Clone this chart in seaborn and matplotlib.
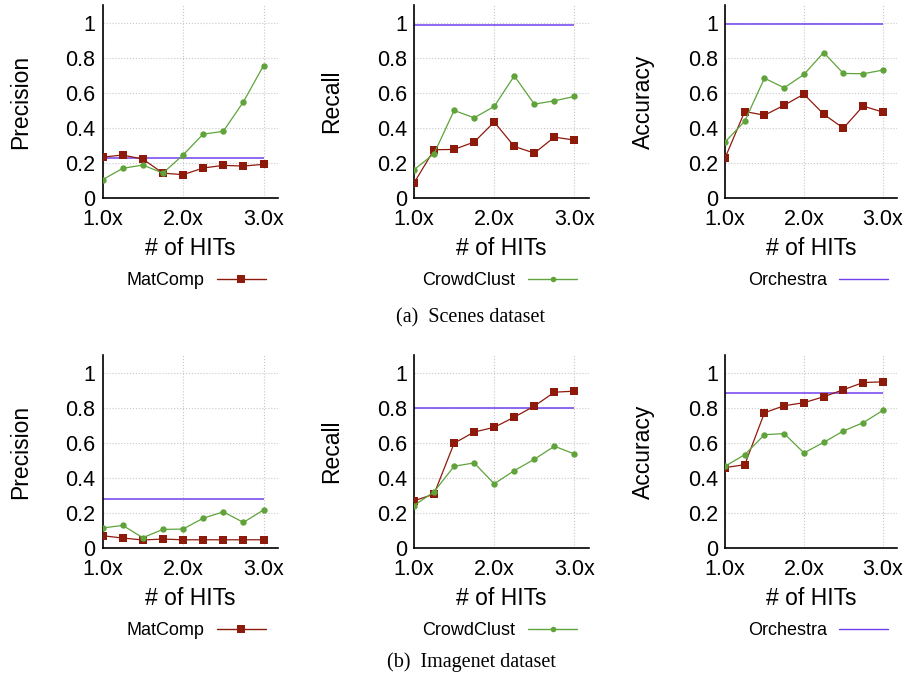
import numpy as np
import pandas as pd
import seaborn as sns
import matplotlib.pyplot as plt
from matplotlib.lines import Line2D

hits = [1.0, 1.25, 1.5, 1.75, 2.0, 2.25, 2.5, 2.75, 3.0]
methods = ['MatComp', 'CrowdClust', 'Orchestra']
metrics = ['Precision', 'Recall', 'Accuracy']

# (a) Scenes dataset
scenes_matcomp = {
    'Precision': [0.233, 0.245, 0.222, 0.142, 0.133, 0.171, 0.186, 0.182, 0.192],
    'Recall': [0.085, 0.275, 0.277, 0.319, 0.433, 0.294, 0.256, 0.347, 0.330],
    'Accuracy': [0.228, 0.493, 0.472, 0.529, 0.592, 0.478, 0.398, 0.524, 0.490],
}
scenes_crowdclust = {
    'Precision': [0.104, 0.169, 0.188, 0.142, 0.245, 0.364, 0.380, 0.548, 0.755],
    'Recall': [0.161, 0.252, 0.499, 0.457, 0.522, 0.696, 0.535, 0.554, 0.579],
    'Accuracy': [0.319, 0.438, 0.683, 0.628, 0.704, 0.829, 0.710, 0.708, 0.729],
}
scenes_orchestra = {'Precision': 0.230, 'Recall': 0.987, 'Accuracy': 0.992}

# (b) Imagenet dataset
imagenet_matcomp = {
    'Precision': [0.070, 0.057, 0.046, 0.051, 0.047, 0.047, 0.047, 0.047, 0.047],
    'Recall': [0.269, 0.307, 0.597, 0.661, 0.688, 0.746, 0.809, 0.888, 0.894],
    'Accuracy': [0.458, 0.475, 0.771, 0.811, 0.828, 0.862, 0.902, 0.943, 0.947],
}
imagenet_crowdclust = {
    'Precision': [0.114, 0.129, 0.059, 0.106, 0.108, 0.170, 0.206, 0.146, 0.217],
    'Recall': [0.242, 0.320, 0.466, 0.485, 0.366, 0.441, 0.506, 0.580, 0.536],
    'Accuracy': [0.466, 0.532, 0.646, 0.652, 0.542, 0.602, 0.667, 0.714, 0.784],
}
imagenet_orchestra = {'Precision': 0.282, 'Recall': 0.799, 'Accuracy': 0.881}

colors = {'MatComp': '#8e1a0c', 'CrowdClust': '#5fa33a', 'Orchestra': '#7040f0'}
marks = {'MatComp': 's', 'CrowdClust': 'o'}

sns.set_style('white')
plt.rcParams['font.family'] = ['Liberation Sans', 'DejaVu Sans']
plt.rcParams['text.color'] = 'black'
plt.rcParams['axes.labelcolor'] = 'black'

fig = plt.figure(figsize=(9.08, 6.84), dpi=100)

lefts = [0.1129, 0.4559, 0.7985]
widths = [0.1933, 0.1927, 0.1894]
bottoms = [0.7105, 0.1988]
height = 0.2822

rows = [(scenes_matcomp, scenes_crowdclust, scenes_orchestra),
        (imagenet_matcomp, imagenet_crowdclust, imagenet_orchestra)]

for r, (mc, cc, orch) in enumerate(rows):
    for c, metric in enumerate(metrics):
        ax = fig.add_axes([lefts[c], bottoms[r], widths[c], height])
        df = pd.DataFrame({
            'x': hits * 2,
            'value': mc[metric] + cc[metric],
            'method': ['MatComp'] * len(hits) + ['CrowdClust'] * len(hits),
        })
        ax.hlines(orch[metric], hits[0], hits[-1], colors=colors['Orchestra'], lw=1.1, zorder=2)
        sns.lineplot(data=df, x='x', y='value', hue='method', style='method',
                     palette=colors, markers=marks, dashes=False, legend=False,
                     linewidth=0.9, markeredgewidth=0, ax=ax, zorder=3)
        for line in ax.lines:
            if line.get_marker() == 's':
                line.set_markersize(5.4)
            elif line.get_marker() == 'o':
                line.set_markersize(4.6)
        ax.set_xlim(1.0, 3.18)
        ax.set_ylim(0, 1.1)
        ax.set_xticks([1.0, 2.0, 3.0])
        ax.set_xticklabels(['1.0x', '2.0x', '3.0x'])
        ax.set_yticks([0, 0.2, 0.4, 0.6, 0.8, 1.0])
        ax.set_yticklabels(['0', '0.2', '0.4', '0.6', '0.8', '1'])
        ax.tick_params(axis='both', length=0, labelsize=15.5, colors='black')
        ax.tick_params(axis='x', pad=8)
        ax.tick_params(axis='y', pad=5)
        ax.grid(True, ls=':', color='#c8c8c8', lw=0.8)
        ax.set_axisbelow(True)
        for s in ['top', 'right']:
            ax.spines[s].set_visible(False)
        for s in ['left', 'bottom']:
            ax.spines[s].set_color('black')
            ax.spines[s].set_linewidth(1.2)
        ax.set_ylabel(metric, fontsize=16.5, va='center')
        ax.yaxis.set_label_coords(-82 / (widths[c] * 908), 0.5)
        ax.set_xlabel('# of HITs', fontsize=16.5, va='center')
        ax.xaxis.set_label_coords(0.5, -50 / (height * 684))

# legends below each column
legend_x = [196 / 908, 499.7 / 908, 818 / 908]
legend_y = [1 - 280.7 / 684, 1 - 630.7 / 684]
for ly in legend_y:
    for c, m in enumerate(methods):
        h = Line2D([], [], color=colors[m], lw=1.0, marker=marks.get(m, ''),
                   markersize=5.4 if m == 'MatComp' else 4, markeredgewidth=0)
        leg = fig.legend(handles=[h], labels=[m], loc='center', bbox_to_anchor=(legend_x[c], ly),
                         frameon=False, markerfirst=False, fontsize=13,
                         handlelength=2.7, handletextpad=0.7, labelcolor='black')

fig.text(470 / 908, 1 - 318 / 684, '(a)  Scenes dataset', ha='center', va='center',
         family=['Liberation Serif', 'DejaVu Serif'], fontsize=14.5)
fig.text(471 / 908, 1 - 662 / 684, '(b)  Imagenet dataset', ha='center', va='center',
         family=['Liberation Serif', 'DejaVu Serif'], fontsize=14.5)

fig.savefig('out.png', dpi=100)
